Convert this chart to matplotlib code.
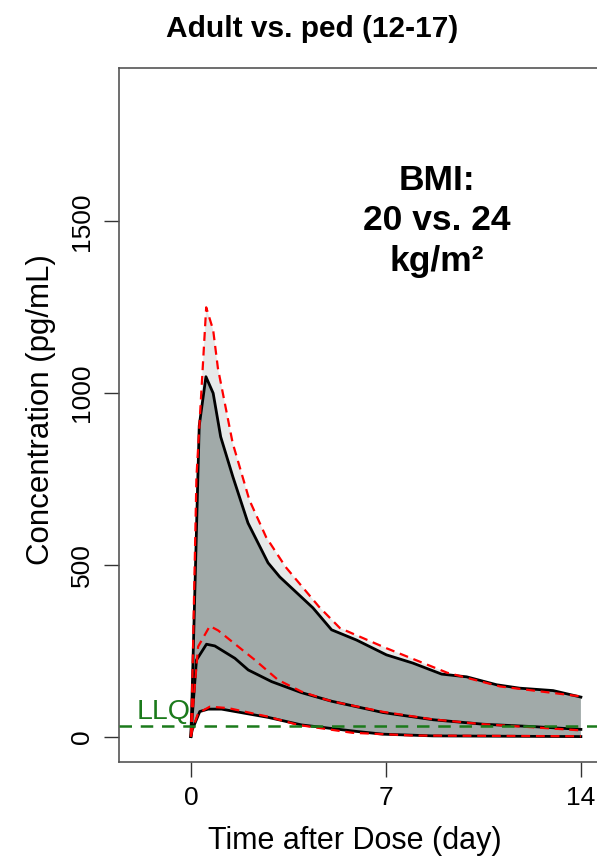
import numpy as np
import matplotlib
matplotlib.use("Agg")
import matplotlib.pyplot as plt

plt.rcParams['font.family'] = ['Liberation Sans', 'DejaVu Sans']

# Reference (adult) percentiles - red dashed
t_ref_hi = [0, 0.05, 0.2, 0.55, 0.8, 0.97, 1.5, 2.1, 2.7, 3.4, 4.6, 5.35, 7.0, 9.2, 11.1, 14]
v_ref_hi = [0, 150, 756, 1250, 1184, 1073, 855, 689, 581, 494, 378, 316, 258, 186, 146, 117]
t_ref_med = [0, 0.05, 0.26, 0.68, 0.98, 1.7, 2.3, 3.13, 3.97, 4.8, 5.1, 6.9, 8.7, 10.5, 12.3, 14]
v_ref_med = [0, 60, 262, 322, 309, 262, 223, 165, 131, 109, 102, 72, 50, 36, 27, 18]
t_ref_lo = [0, 0.05, 0.26, 0.68, 1.34, 2.77, 3.85, 5.8, 8, 14]
v_ref_lo = [0, 20, 68, 87, 83, 58, 34, 11, 3, 1]

# Pediatric percentiles - black solid
t_ped_hi = [0, 0.05, 0.3, 0.54, 0.8, 1.07, 1.51, 2.05, 2.77, 3.19, 4.38, 5.05, 5.95, 7.02, 7.97, 9.0, 9.9, 10.97, 11.8, 13.0, 14.0]
v_ped_hi = [0, 140, 905, 1048, 1000, 873, 756, 622, 506, 465, 375, 311, 281, 238, 214, 182, 174, 151, 141, 134, 115]
t_ped_med = [0, 0.05, 0.2, 0.56, 0.86, 1.58, 2.06, 2.9, 3.97, 5.05, 6.9, 8.7, 10.5, 12.3, 14]
v_ped_med = [0, 60, 223, 269, 264, 228, 194, 160, 128, 103, 70, 49, 36, 29, 21]
t_ped_lo = [0, 0.05, 0.32, 0.62, 1.1, 2.77, 3.97, 5.95, 6.9, 8.7, 14]
v_ped_lo = [0, 20, 73, 80, 80, 56, 34, 15, 7, 2, 0]

llq = 30
x_ticks = [0, 7, 14]
y_ticks = [0, 500, 1000, 1500]

W, H = 597, 856
fig = plt.figure(figsize=(W / 100, H / 100), dpi=100)
ax = fig.add_axes([119 / W, (H - 762) / H, (599 - 119) / W, (762 - 68) / H])

ax.fill(np.concatenate([t_ref_hi, t_ref_lo[::-1]]),
        np.concatenate([v_ref_hi, v_ref_lo[::-1]]),
        color='#e6e9e9', lw=0, zorder=1)
ax.fill(np.concatenate([t_ped_hi, t_ped_lo[::-1]]),
        np.concatenate([v_ped_hi, v_ped_lo[::-1]]),
        color='#a1aaa9', lw=0, zorder=2)

for tt, vv in [(t_ped_hi, v_ped_hi), (t_ped_med, v_ped_med), (t_ped_lo, v_ped_lo)]:
    ax.plot(tt, vv, color='black', lw=2.0, zorder=3)
for tt, vv in [(t_ref_hi, v_ref_hi), (t_ref_med, v_ref_med), (t_ref_lo, v_ref_lo)]:
    ax.plot(tt, vv, color='#ff0000', lw=1.6, ls=(0, (4, 2.6)), zorder=4)

ax.axhline(llq, color='#1b7a1b', lw=1.8, ls=(0, (5, 3.5)), zorder=5)
ax.text(-0.02, llq + 4, 'LLQ', color='#1b7a1b', fontsize=20.5, ha='right', va='bottom', zorder=5)

ax.set_xlim(-2.58, 14.65)
ax.set_ylim(-74, 1947)
ax.set_xticks(x_ticks)
ax.set_yticks(y_ticks)
ax.set_xticklabels([str(v) for v in x_ticks], fontsize=19)
ax.set_yticklabels([str(v) for v in y_ticks], fontsize=19, rotation=90, va='center')
ax.tick_params(axis='both', length=11, width=1.0, color='#333333')
ax.tick_params(axis='x', pad=6)
ax.tick_params(axis='y', pad=7)
for s in ax.spines.values():
    s.set_color('#555555')
    s.set_linewidth(1.2)

fig.text(41 / W, 1 - 410 / H, 'Concentration (pg/mL)', rotation=90, fontsize=22.5,
         ha='center', va='center')
fig.text(355 / W, 1 - 841 / H, 'Time after Dose (day)', fontsize=22, ha='center', va='center')
fig.text(312 / W, 1 - 29 / H, 'Adult vs. ped (12-17)', fontsize=21.5, fontweight='bold',
         ha='center', va='center')
fig.text(437 / W, 1 - 221 / H, 'BMI:\n20 vs. 24\nkg/m²', fontsize=25.5, fontweight='bold',
         ha='center', va='center', linespacing=1.3)

fig.savefig('out.png', dpi=100)
